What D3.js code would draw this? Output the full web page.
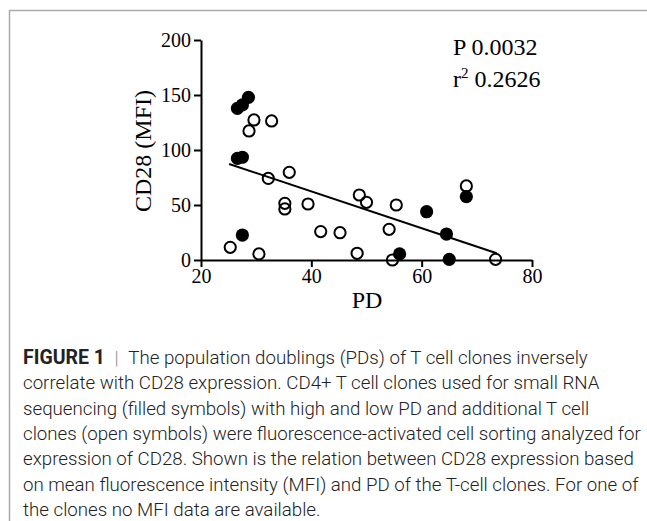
<!DOCTYPE html>
<html>
<head>
<meta charset="UTF-8">
<style>
  body { margin: 0; background: #fff; }
  svg { display: block; }
</style>
</head>
<body>
<svg width="647" height="521"></svg>
<script src="https://d3js.org/d3.v7.min.js"></script>
<script>
// filled symbols: clones used for small RNA sequencing
let filledPD  = [28.6, 26.6, 27.5, 26.6, 27.5, 27.5, 60.9, 56.0, 68.1, 64.5, 65.0];
let filledMFI = [147.9, 137.9, 141.0, 92.4, 93.4, 22.7, 43.9, 5.5, 57.6, 23.6, 0.6];
// open symbols: additional clones
let openPD  = [29.6, 28.7, 32.8, 32.2, 36.0, 35.2, 35.2, 39.4, 25.3, 30.5, 41.7, 45.2, 48.3, 48.7, 50.0, 54.1, 54.7, 55.4, 68.1, 73.4];
let openMFI = [127.3, 117.3, 126.4, 74.2, 79.7, 51.5, 46.4, 50.9, 11.5, 5.5, 25.8, 24.8, 6.1, 59.1, 52.4, 27.9, 0.0, 50.0, 67.3, 0.6];
// regression line end points
let fitPD  = [25.1, 73.6];
let fitMFI = [87.3, 6.1];

let xTicks = [20, 40, 60, 80];
let yTicks = [0, 50, 100, 150, 200];

let caption = [
  "The population doublings (PDs) of T cell clones inversely",
  "correlate with CD28 expression. CD4+ T cell clones used for small RNA",
  "sequencing (filled symbols) with high and low PD and additional T cell",
  "clones (open symbols) were fluorescence-activated cell sorting analyzed for",
  "expression of CD28. Shown is the relation between CD28 expression based",
  "on mean fluorescence intensity (MFI) and PD of the T-cell clones. For one of",
  "the clones no MFI data are available."
];

let svg = d3.select("svg");

// frame
svg.append("path")
  .attr("d", "M9.5,521 L9.5,10.5 L647,10.5")
  .attr("fill", "none")
  .attr("stroke", "#aaa")
  .attr("stroke-width", 1.5);

let x = d3.scaleLinear().domain([20, 80]).range([201, 532]);
let y = d3.scaleLinear().domain([0, 200]).range([260, 40]);

let serif = "'Liberation Serif', 'Times New Roman', serif";

let yAxis = svg.append("g")
  .attr("transform", "translate(201,0)")
  .call(d3.axisLeft(y).tickValues(yTicks).tickSize(7).tickSizeOuter(0).tickPadding(3));
let xAxis = svg.append("g")
  .attr("transform", "translate(0,260)")
  .call(d3.axisBottom(x).tickValues(xTicks).tickSize(7).tickSizeOuter(0).tickPadding(2));

[xAxis, yAxis].forEach(a => {
  a.selectAll("path, line").attr("stroke", "#000").attr("stroke-width", 2);
  a.selectAll("text").attr("fill", "#000").style("font-family", serif).style("font-size", "20px");
});

// regression line
svg.append("line")
  .attr("x1", x(fitPD[0])).attr("y1", y(fitMFI[0]))
  .attr("x2", x(fitPD[1])).attr("y2", y(fitMFI[1]))
  .attr("stroke", "#000")
  .attr("stroke-width", 2);

svg.append("g").selectAll("circle")
  .data(d3.zip(openPD, openMFI))
  .enter().append("circle")
  .attr("cx", d => x(d[0]))
  .attr("cy", d => y(d[1]))
  .attr("r", 5.6)
  .attr("fill", "none")
  .attr("stroke", "#000")
  .attr("stroke-width", 2);

svg.append("g").selectAll("circle")
  .data(d3.zip(filledPD, filledMFI))
  .enter().append("circle")
  .attr("cx", d => x(d[0]))
  .attr("cy", d => y(d[1]))
  .attr("r", 6.6)
  .attr("fill", "#000");

// axis titles
svg.append("text")
  .attr("x", 367).attr("y", 308)
  .attr("text-anchor", "middle")
  .style("font-family", serif).style("font-size", "24px")
  .text("PD");

svg.append("text")
  .attr("transform", "translate(151,151) rotate(-90)")
  .attr("text-anchor", "middle")
  .style("font-family", serif).style("font-size", "24px")
  .text("CD28 (MFI)");

// statistics
svg.append("text")
  .attr("x", 453).attr("y", 55)
  .style("font-family", serif).style("font-size", "24px")
  .text("P 0.0032");

let r2 = svg.append("text")
  .attr("x", 453).attr("y", 87)
  .style("font-family", serif).style("font-size", "24px");
r2.append("tspan").text("r");
r2.append("tspan").attr("dy", -9).style("font-size", "15px").text("2");
r2.append("tspan").attr("dy", 9).text(" 0.2626");

// caption
let cap = svg.append("g")
  .style("font-family", "Roboto, 'Liberation Sans', sans-serif")
  .style("font-size", "18.7px")
  .style("font-weight", 300)
  .attr("fill", "#222");

caption.forEach((line, i) => {
  let t = cap.append("text").attr("x", 23).attr("y", 364 + i * 25.3);
  if (i === 0) {
    t.append("tspan").style("font-weight", 700).style("font-size", "19.5px").text("FIGURE 1");
    t.append("tspan").attr("fill", "#888").text("\u2002|\u2002");
  }
  t.append("tspan").text(line);
});
</script>
</body>
</html>
